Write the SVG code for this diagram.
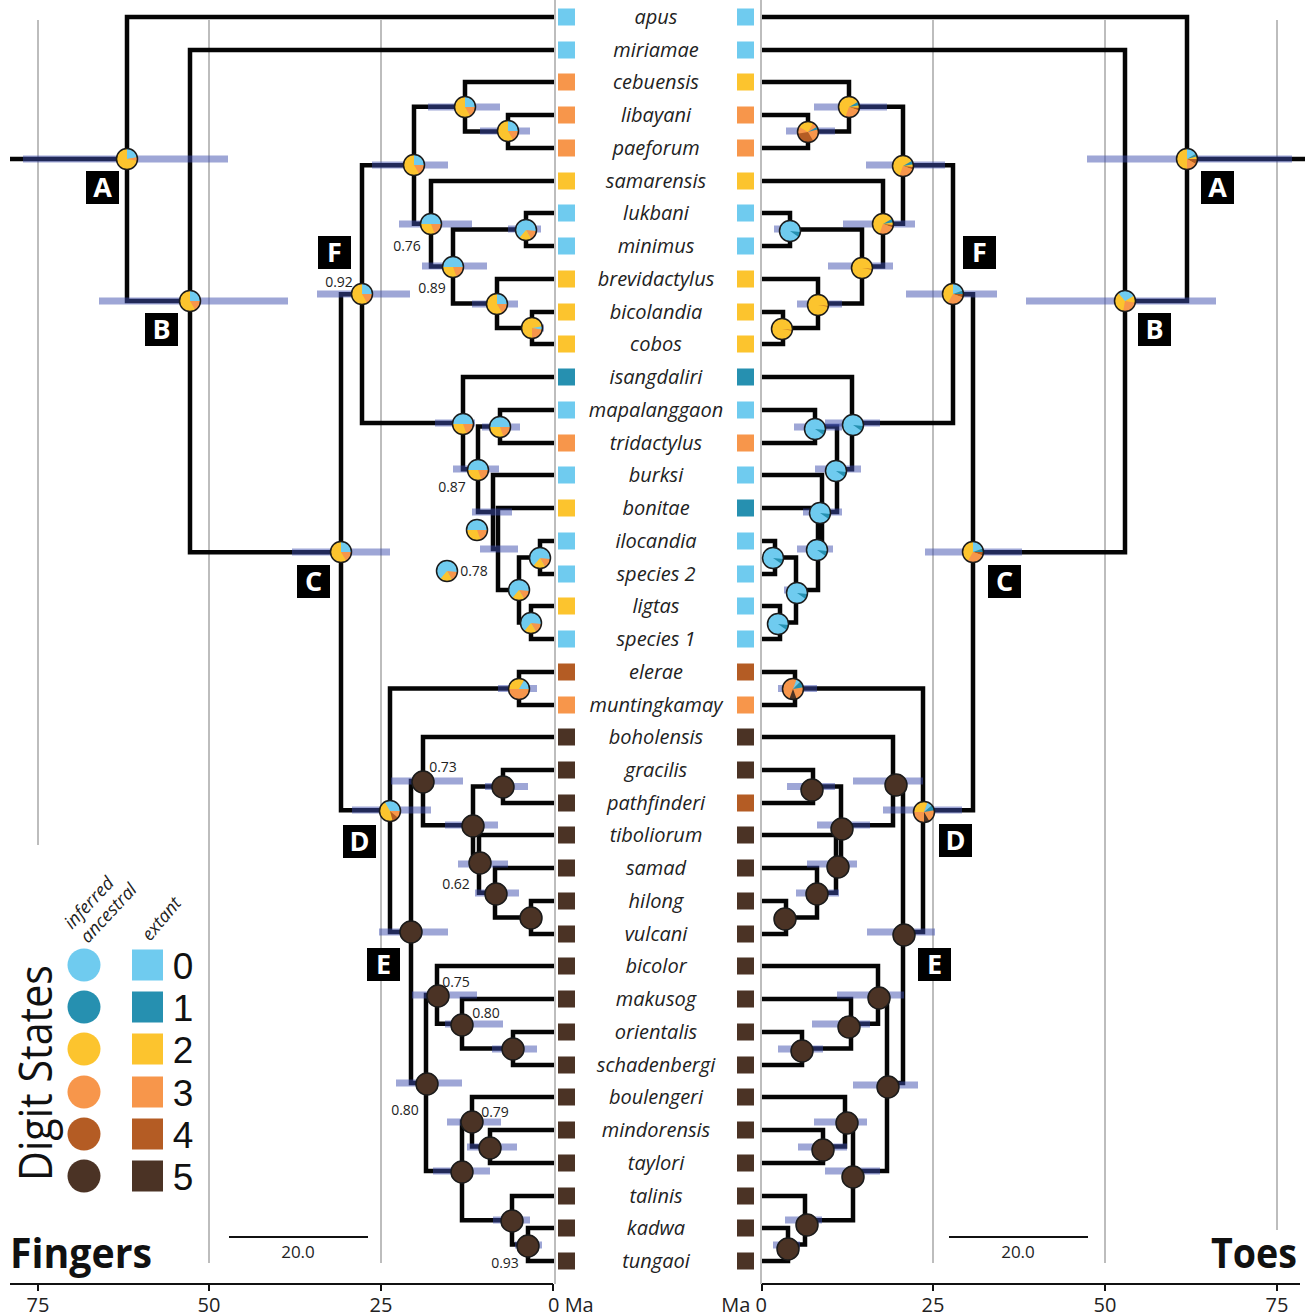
<svg xmlns="http://www.w3.org/2000/svg" width="1309" height="1316" viewBox="0 0 1309 1316">
<style>
.bg{fill:#fff}
.grid{stroke:#a8a8a8;stroke-width:1.5;fill:none}
.br{fill:none;stroke:#050505;stroke-width:4.5;stroke-linejoin:miter}
.hpd{fill:#3d4dad;opacity:.5}
.po{fill:none;stroke:#1a1a1a;stroke-width:1.5}
.c0{fill:#6fcbef}.c1{fill:#2690b0}.c2{fill:#fcc42e}.c3{fill:#f7964b}.c4{fill:#b45c24}.c5{fill:#4b3325}
.sp{font-family:"Open Sans","Noto Sans",sans-serif;font-style:italic;font-size:20px;fill:#222;text-anchor:middle}
.sup{font-family:"Open Sans","Noto Sans",sans-serif;font-size:14px;fill:#222;text-anchor:middle}
.box{fill:#000}
.bl{font-family:"Open Sans","Noto Sans",sans-serif;font-weight:bold;font-size:27px;fill:#fff;text-anchor:middle}
.ax{font-family:"Open Sans","Noto Sans",sans-serif;font-size:20px;fill:#222;text-anchor:middle}
.axs{font-family:"Open Sans","Noto Sans",sans-serif;font-size:20px;fill:#222;text-anchor:start}
.axe{font-family:"Open Sans","Noto Sans",sans-serif;font-size:20px;fill:#222;text-anchor:end}
.sc{font-family:"Open Sans","Noto Sans",sans-serif;font-size:17px;fill:#222;text-anchor:middle}
.leg{font-family:"Liberation Sans",Arial,sans-serif;font-size:37px;fill:#111;text-anchor:middle}
.legi{font-family:"Open Sans","Noto Sans",sans-serif;font-style:italic;font-size:18px;fill:#222}
.title{font-family:"Open Sans","Noto Sans",sans-serif;font-weight:bold;font-size:42px;fill:#111}
.axl{stroke:#111;stroke-width:2;fill:none}
</style>
<defs>
<g id="pLA"><circle r="10.5" class="c2"/><path class="c0" d="M0,0V-10.5A10.5,10.5 0 0 1 10.34,-1.82Z"/><path class="c3" d="M0,0L10.34,-1.82A10.5,10.5 0 0 1 10.34,1.82Z"/><circle r="10.5" class="po"/></g>
<g id="pL1"><circle r="10.5" class="c2"/><path class="c0" d="M0,0V-10.5A10.5,10.5 0 0 1 10.5,0Z"/><path class="c3" d="M0,0H10.5A10.5,10.5 0 0 1 5.25,9.09Z"/><circle r="10.5" class="po"/></g>
<g id="pL2"><circle r="10.5" class="c2"/><path class="c0" d="M0,0H-10.5A10.5,10.5 0 0 1 10.5,0Z"/><path class="c3" d="M0,0H10.5A10.5,10.5 0 0 1 3.59,9.87Z"/><circle r="10.5" class="po"/></g>
<g id="pL3"><circle r="10.5" class="c2"/><path class="c0" d="M0,0L10.34,-1.82A10.5,10.5 0 0 1 10.34,1.82Z"/><path class="c3" d="M0,0L10.34,1.82A10.5,10.5 0 0 1 0,10.5Z"/><circle r="10.5" class="po"/></g>
<g id="pLB"><circle r="10.5" class="c0"/><path class="c3" d="M0,0L10.46,0.92A10.5,10.5 0 0 1 5.25,9.09Z"/><path class="c2" d="M0,0L5.25,9.09A10.5,10.5 0 0 1 -6.75,8.04Z"/><circle r="10.5" class="po"/></g>
<g id="pLD"><circle r="10.5" class="c2"/><path class="c0" d="M0,0L-5.25,-9.09A10.5,10.5 0 0 1 10.5,0Z"/><path class="c3" d="M0,0H10.5A10.5,10.5 0 0 1 8.04,6.75Z"/><path class="c4" d="M0,0L8.04,6.75A10.5,10.5 0 0 1 2.72,10.14Z"/><circle r="10.5" class="po"/></g>
<g id="pLW"><circle r="10.5" class="c3"/><path class="c2" d="M0,0H-10.5A10.5,10.5 0 0 1 5.25,-9.09Z"/><path class="c0" d="M0,0L5.25,-9.09A10.5,10.5 0 0 1 10.5,0Z"/><circle r="10.5" class="po"/></g>
<g id="pBr"><circle r="11" class="c5"/><circle r="11" class="po"/></g>
<g id="pRA"><circle r="10.5" class="c2"/><path class="c0" d="M0,0V-10.5A10.5,10.5 0 0 1 9.09,-5.25Z"/><path class="c1" d="M0,0L9.09,-5.25A10.5,10.5 0 0 1 10.14,-2.72Z"/><path class="c4" d="M0,0H10.5A10.5,10.5 0 0 1 9.09,5.25Z"/><path class="c3" d="M0,0L9.09,5.25A10.5,10.5 0 0 1 0,10.5Z"/><circle r="10.5" class="po"/></g>
<g id="pRB"><circle r="10.5" class="c2"/><path class="c0" d="M0,0L-6.75,-8.04A10.5,10.5 0 0 1 9.09,-5.25Z"/><path class="c3" d="M0,0L10.34,1.82A10.5,10.5 0 0 1 -1.82,10.34Z"/><circle r="10.5" class="po"/></g>
<g id="pRF"><circle r="10.5" class="c2"/><path class="c0" d="M0,0V-10.5A10.5,10.5 0 0 1 9.87,-3.59Z"/><path class="c1" d="M0,0L9.87,-3.59A10.5,10.5 0 0 1 10.5,0Z"/><path class="c4" d="M0,0H10.5A10.5,10.5 0 0 1 9.87,3.59Z"/><path class="c3" d="M0,0L9.87,3.59A10.5,10.5 0 0 1 -5.25,9.09Z"/><circle r="10.5" class="po"/></g>
<g id="pRG"><circle r="10.5" class="c2"/><path class="c1" d="M0,0L9.09,-5.25A10.5,10.5 0 0 1 10.34,-1.82Z"/><path class="c4" d="M0,0L10.46,0.92A10.5,10.5 0 0 1 9.87,3.59Z"/><path class="c3" d="M0,0L9.87,3.59A10.5,10.5 0 0 1 -3.59,9.87Z"/><circle r="10.5" class="po"/></g>
<g id="pRH"><circle r="10.5" class="c3"/><path class="c4" d="M0,0L5.25,9.09A10.5,10.5 0 0 1 -10.34,1.82Z"/><path class="c2" d="M0,0L-9.09,-5.25A10.5,10.5 0 0 1 5.25,-9.09Z"/><path class="c1" d="M0,0L9.09,-5.25A10.5,10.5 0 0 1 10.14,-2.72Z"/><circle r="10.5" class="po"/></g>
<g id="pRY"><circle r="10.5" class="c2"/><path class="c4" d="M0,0L10.46,0.92A10.5,10.5 0 0 1 10.34,1.82Z"/><circle r="10.5" class="po"/></g>
<g id="pRBl"><circle r="10.5" class="c0"/><path class="c1" d="M0,0L10.46,0.92A10.5,10.5 0 0 1 8.6,6.02Z"/><circle r="10.5" class="po"/></g>
<g id="pRW"><circle r="10.5" class="c3"/><path class="c0" d="M0,0L3.59,-9.87A10.5,10.5 0 0 1 7.42,-7.42Z"/><path class="c1" d="M0,0L7.42,-7.42A10.5,10.5 0 0 1 10.34,-1.82Z"/><path class="c5" d="M0,0L3.59,9.87A10.5,10.5 0 0 1 -3.59,9.87Z"/><circle r="10.5" class="po"/></g>
<g id="pRD"><circle r="10.5" class="c3"/><path class="c2" d="M0,0H-10.5A10.5,10.5 0 0 1 3.59,-9.87Z"/><path class="c0" d="M0,0L3.59,-9.87A10.5,10.5 0 0 1 8.04,-6.75Z"/><path class="c1" d="M0,0L8.04,-6.75A10.5,10.5 0 0 1 10.34,-1.82Z"/><path class="c5" d="M0,0L5.25,9.09A10.5,10.5 0 0 1 0,10.5Z"/><circle r="10.5" class="po"/></g>
</defs>
<rect class="bg" x="0" y="0" width="1309" height="1316"/>
<g id="grid">
<path class="grid" d="M38,20V845M209,20V1263M381,20V1263M555,0V1284M761,0V1284M933,20V1263M1105,20V1263M1277,20V1230"/>
</g>
<g id="connectors">
<g id="left-tree">
<path class="br" d="M127,159H10"/>
<path class="br" d="M554,17H127V301.1H190"/>
<path class="br" d="M554,50H190V552.2H341"/>
<path class="br" d="M362,294.2H341V810.25H390"/>
<path class="br" d="M414,165.25H362V423.1H463"/>
<path class="br" d="M465,106.75H414V223.75H431"/>
<path class="br" d="M554,82H465V131.5H508"/>
<path class="br" d="M554,115H508V148H554"/>
<path class="br" d="M554,181H431V266.5H453"/>
<path class="br" d="M526,229.5H453V303.5H497"/>
<path class="br" d="M554,213H526V246H554"/>
<path class="br" d="M554,279H497V328H532"/>
<path class="br" d="M554,312H532V344H554"/>
<path class="br" d="M554,377H463V469.25H478"/>
<path class="br" d="M500,426.5H478V512H493"/>
<path class="br" d="M554,410H500V443H554"/>
<path class="br" d="M554,475H493V549H498"/>
<path class="br" d="M554,508H498V590H519"/>
<path class="br" d="M540,557.5H519V622.5H531"/>
<path class="br" d="M554,541H540V574H554"/>
<path class="br" d="M554,606H531V639H554"/>
<path class="br" d="M519,688.5H390V932H411"/>
<path class="br" d="M554,672H519V705H554"/>
<path class="br" d="M423,781.1H411V1083H426"/>
<path class="br" d="M554,737H423V825.2H473"/>
<path class="br" d="M503,786.5H473V863.9H479"/>
<path class="br" d="M554,770H503V803H554"/>
<path class="br" d="M554,835H479V892.75H495"/>
<path class="br" d="M554,868H495V917.5H531"/>
<path class="br" d="M554,901H531V934H554"/>
<path class="br" d="M437,994.9H426V1171H462"/>
<path class="br" d="M554,966H437V1023.75H462"/>
<path class="br" d="M554,999H462V1048.5H513"/>
<path class="br" d="M554,1032H513V1065H554"/>
<path class="br" d="M472,1121.75H462V1220.25H512"/>
<path class="br" d="M554,1097H472V1146.5H490"/>
<path class="br" d="M554,1130H490V1163H554"/>
<path class="br" d="M554,1196H512V1244.5H528"/>
<path class="br" d="M554,1228H528V1261H554"/>
</g>
<g id="right-tree">
<path class="br" d="M1187,159H1305"/>
<path class="br" d="M762,17H1187V301.1H1125"/>
<path class="br" d="M762,50H1125V552.2H973"/>
<path class="br" d="M953,294.2H973V810.25H923"/>
<path class="br" d="M903,165.25H953V423.1H852"/>
<path class="br" d="M849,106.75H903V223.75H883"/>
<path class="br" d="M762,82H849V131.5H808"/>
<path class="br" d="M762,115H808V148H762"/>
<path class="br" d="M762,181H883V266.5H862"/>
<path class="br" d="M790,229.5H862V303.5H818"/>
<path class="br" d="M762,213H790V246H762"/>
<path class="br" d="M762,279H818V328H783"/>
<path class="br" d="M762,312H783V344H762"/>
<path class="br" d="M762,377H852V469.25H837"/>
<path class="br" d="M815,426.5H837V512H822"/>
<path class="br" d="M762,410H815V443H762"/>
<path class="br" d="M762,475H822V549H818"/>
<path class="br" d="M762,508H818V590H796"/>
<path class="br" d="M775,557.5H796V622.5H780"/>
<path class="br" d="M762,541H775V574H762"/>
<path class="br" d="M762,606H780V639H762"/>
<path class="br" d="M795,688.5H923V932H903"/>
<path class="br" d="M762,672H795V705H762"/>
<path class="br" d="M893,781.1H903V1083H887"/>
<path class="br" d="M762,737H893V825.2H841"/>
<path class="br" d="M813,786.5H841V863.9H836"/>
<path class="br" d="M762,770H813V803H762"/>
<path class="br" d="M762,835H836V892.75H817"/>
<path class="br" d="M762,868H817V917.5H786"/>
<path class="br" d="M762,901H786V934H762"/>
<path class="br" d="M878,994.9H887V1171H853"/>
<path class="br" d="M762,966H878V1023.75H851"/>
<path class="br" d="M762,999H851V1048.5H802"/>
<path class="br" d="M762,1032H802V1065H762"/>
<path class="br" d="M845,1121.75H853V1220.25H805"/>
<path class="br" d="M762,1097H845V1146.5H823"/>
<path class="br" d="M762,1130H823V1163H762"/>
<path class="br" d="M762,1196H805V1244.5H788"/>
<path class="br" d="M762,1228H788V1261H762"/>
</g>
</g>
<g id="hpd-bars">
<rect class="hpd" x="23" y="155.5" width="205" height="7"/>
<rect class="hpd" x="99" y="297.5" width="189" height="7"/>
<rect class="hpd" x="292" y="548.5" width="98" height="7"/>
<rect class="hpd" x="317" y="290.5" width="93" height="7"/>
<rect class="hpd" x="372" y="161.5" width="76" height="7"/>
<rect class="hpd" x="428" y="103.5" width="72" height="7"/>
<rect class="hpd" x="480" y="127.5" width="50" height="7"/>
<rect class="hpd" x="399" y="220.5" width="73" height="7"/>
<rect class="hpd" x="422" y="262.5" width="65" height="7"/>
<rect class="hpd" x="508" y="225.5" width="33" height="7"/>
<rect class="hpd" x="472" y="300.5" width="46" height="7"/>
<rect class="hpd" x="522" y="324.5" width="22" height="7"/>
<rect class="hpd" x="435" y="419.5" width="40" height="7"/>
<rect class="hpd" x="482" y="423.5" width="38" height="7"/>
<rect class="hpd" x="453" y="465.5" width="46" height="7"/>
<rect class="hpd" x="472" y="508.5" width="40" height="7"/>
<rect class="hpd" x="480" y="545.5" width="38" height="7"/>
<rect class="hpd" x="498" y="685" width="39" height="7"/>
<rect class="hpd" x="352" y="806.5" width="79" height="7"/>
<rect class="hpd" x="391" y="777.5" width="72" height="7"/>
<rect class="hpd" x="485" y="783" width="43" height="7"/>
<rect class="hpd" x="445" y="821.5" width="53" height="7"/>
<rect class="hpd" x="458" y="860.5" width="50" height="7"/>
<rect class="hpd" x="475" y="889.5" width="44" height="7"/>
<rect class="hpd" x="379" y="928.5" width="69" height="7"/>
<rect class="hpd" x="412" y="991.5" width="65" height="7"/>
<rect class="hpd" x="445" y="1020.5" width="58" height="7"/>
<rect class="hpd" x="492" y="1045.5" width="45" height="7"/>
<rect class="hpd" x="396" y="1079.5" width="66" height="7"/>
<rect class="hpd" x="447" y="1118.5" width="54" height="7"/>
<rect class="hpd" x="467" y="1143.5" width="50" height="7"/>
<rect class="hpd" x="433" y="1167.5" width="57" height="7"/>
<rect class="hpd" x="493" y="1216.5" width="37" height="7"/>
<rect class="hpd" x="515" y="1241.5" width="27" height="7"/>
<rect class="hpd" x="1087" y="155.5" width="205" height="7"/>
<rect class="hpd" x="1026" y="297.5" width="190" height="7"/>
<rect class="hpd" x="925" y="548.5" width="97" height="7"/>
<rect class="hpd" x="906" y="290.5" width="91" height="7"/>
<rect class="hpd" x="866" y="161.5" width="79" height="7"/>
<rect class="hpd" x="814" y="103.5" width="73" height="7"/>
<rect class="hpd" x="786" y="127.5" width="49" height="7"/>
<rect class="hpd" x="843" y="220.5" width="72" height="7"/>
<rect class="hpd" x="828" y="262.5" width="65" height="7"/>
<rect class="hpd" x="774" y="225.5" width="26" height="7"/>
<rect class="hpd" x="797" y="300.5" width="45" height="7"/>
<rect class="hpd" x="825" y="419.5" width="55" height="7"/>
<rect class="hpd" x="794" y="423.5" width="48" height="7"/>
<rect class="hpd" x="815" y="465.5" width="46" height="7"/>
<rect class="hpd" x="803" y="508.5" width="39" height="7"/>
<rect class="hpd" x="797" y="545.5" width="36" height="7"/>
<rect class="hpd" x="784" y="586.5" width="21" height="7"/>
<rect class="hpd" x="778" y="685" width="39" height="7"/>
<rect class="hpd" x="883" y="806.5" width="79" height="7"/>
<rect class="hpd" x="853" y="777.5" width="70" height="7"/>
<rect class="hpd" x="787" y="783" width="48" height="7"/>
<rect class="hpd" x="817" y="821.5" width="53" height="7"/>
<rect class="hpd" x="807" y="860.5" width="50" height="7"/>
<rect class="hpd" x="796" y="889.5" width="43" height="7"/>
<rect class="hpd" x="867" y="928.5" width="68" height="7"/>
<rect class="hpd" x="837" y="991.5" width="67" height="7"/>
<rect class="hpd" x="812" y="1020.5" width="58" height="7"/>
<rect class="hpd" x="778" y="1045.5" width="45" height="7"/>
<rect class="hpd" x="853" y="1081.5" width="65" height="7"/>
<rect class="hpd" x="814" y="1118.5" width="53" height="7"/>
<rect class="hpd" x="798" y="1143.5" width="49" height="7"/>
<rect class="hpd" x="825" y="1167.5" width="55" height="7"/>
<rect class="hpd" x="785" y="1216.5" width="37" height="7"/>
<rect class="hpd" x="773" y="1241.5" width="27" height="7"/>
</g>
<g id="left-nodes">
<g id="nL-A"><use href="#pLA" x="127" y="159"/><rect class="box" x="86" y="171" width="33" height="33"/><text class="bl" x="102.5" y="197">A</text></g>
<g id="nL-B"><use href="#pL1" x="190" y="301"/><rect class="box" x="145" y="313" width="33" height="33"/><text class="bl" x="161.5" y="339">B</text></g>
<g id="nL-C"><use href="#pL1" x="341" y="552"/><rect class="box" x="297" y="565" width="33" height="33"/><text class="bl" x="313.5" y="591">C</text></g>
<g id="nL-F"><use href="#pL1" x="362" y="294"/><rect class="box" x="318" y="236" width="33" height="33"/><text class="bl" x="334.5" y="262">F</text><text class="sup" x="339" y="287">0.92</text></g>
<g id="nL-G"><use href="#pL1" x="414" y="165"/></g>
<g id="nL-H"><use href="#pL1" x="465" y="107"/></g>
<g id="nL-H2"><use href="#pL1" x="508" y="131"/></g>
<g id="nL-I"><use href="#pL2" x="431" y="224"/><text class="sup" x="407" y="251">0.76</text></g>
<g id="nL-J"><use href="#pL2" x="453" y="267"/><text class="sup" x="432" y="293">0.89</text></g>
<g id="nL-K"><use href="#pLB" x="526" y="230"/></g>
<g id="nL-L"><use href="#pL1" x="497" y="304"/></g>
<g id="nL-M"><use href="#pL3" x="532" y="328"/></g>
<g id="nL-N"><use href="#pL2" x="463" y="424"/></g>
<g id="nL-O"><use href="#pL2" x="500" y="427"/></g>
<g id="nL-P"><use href="#pL2" x="478" y="470"/><text class="sup" x="452" y="492">0.87</text></g>
<g id="nL-Q"><use href="#pL2" x="477" y="530"/></g>
<g id="nL-R"><use href="#pLB" x="447" y="571"/><text class="sup" x="474" y="576">0.78</text></g>
<g id="nL-T"><use href="#pLB" x="519" y="590"/></g>
<g id="nL-U"><use href="#pLB" x="540" y="558"/></g>
<g id="nL-V"><use href="#pLB" x="531" y="623"/></g>
<g id="nL-W"><use href="#pLW" x="519" y="689"/></g>
<g id="nL-D"><use href="#pLD" x="390" y="811"/><rect class="box" x="343" y="825" width="33" height="33"/><text class="bl" x="359.5" y="851">D</text></g>
<g id="nL-E"><use href="#pBr" x="411" y="932"/><rect class="box" x="367" y="948" width="33" height="33"/><text class="bl" x="383.5" y="974">E</text></g>
<g id="nL-X"><use href="#pBr" x="423" y="782"/><text class="sup" x="443" y="772">0.73</text></g>
<g id="nL-Z"><use href="#pBr" x="473" y="826"/></g>
<g id="nL-AA"><use href="#pBr" x="503" y="787"/></g>
<g id="nL-AB"><use href="#pBr" x="480" y="863"/><text class="sup" x="456" y="889">0.62</text></g>
<g id="nL-AC"><use href="#pBr" x="496" y="894"/></g>
<g id="nL-AD"><use href="#pBr" x="531" y="918"/></g>
<g id="nL-Y"><use href="#pBr" x="427" y="1084"/><text class="sup" x="405" y="1115">0.80</text></g>
<g id="nL-AE"><use href="#pBr" x="438" y="996"/><text class="sup" x="456" y="987">0.75</text></g>
<g id="nL-AG"><use href="#pBr" x="462" y="1025"/><text class="sup" x="486" y="1018">0.80</text></g>
<g id="nL-AH"><use href="#pBr" x="513" y="1049"/></g>
<g id="nL-AF"><use href="#pBr" x="462" y="1172"/></g>
<g id="nL-AI"><use href="#pBr" x="472" y="1122"/><text class="sup" x="495" y="1117">0.79</text></g>
<g id="nL-AK"><use href="#pBr" x="490" y="1148"/></g>
<g id="nL-AJ"><use href="#pBr" x="512" y="1221"/></g>
<g id="nL-AL"><use href="#pBr" x="528" y="1246"/><text class="sup" x="505" y="1268">0.93</text></g>
</g>
<g id="right-nodes">
<g id="nR-A"><use href="#pRA" x="1187" y="159"/><rect class="box" x="1201" y="171" width="33" height="33"/><text class="bl" x="1217.5" y="197">A</text></g>
<g id="nR-B"><use href="#pRB" x="1125" y="301"/><rect class="box" x="1138" y="313" width="33" height="33"/><text class="bl" x="1154.5" y="339">B</text></g>
<g id="nR-C"><use href="#pRF" x="973" y="552"/><rect class="box" x="988" y="565" width="33" height="33"/><text class="bl" x="1004.5" y="591">C</text></g>
<g id="nR-F"><use href="#pRF" x="953" y="294"/><rect class="box" x="963" y="236" width="33" height="33"/><text class="bl" x="979.5" y="262">F</text></g>
<g id="nR-G"><use href="#pRG" x="903" y="166"/></g>
<g id="nR-H"><use href="#pRG" x="849" y="107"/></g>
<g id="nR-H2"><use href="#pRH" x="808" y="132"/></g>
<g id="nR-I"><use href="#pRG" x="883" y="224"/></g>
<g id="nR-J"><use href="#pRY" x="862" y="268"/></g>
<g id="nR-K"><use href="#pRBl" x="790" y="231"/></g>
<g id="nR-L"><use href="#pRY" x="818" y="305"/></g>
<g id="nR-M"><use href="#pRY" x="782" y="329"/></g>
<g id="nR-N"><use href="#pRBl" x="853" y="425"/></g>
<g id="nR-O"><use href="#pRBl" x="815" y="429"/></g>
<g id="nR-P"><use href="#pRBl" x="836" y="471"/></g>
<g id="nR-Q"><use href="#pRBl" x="820" y="513"/></g>
<g id="nR-R"><use href="#pRBl" x="817" y="550"/></g>
<g id="nR-T"><use href="#pRBl" x="797" y="593"/></g>
<g id="nR-U"><use href="#pRBl" x="773" y="558"/></g>
<g id="nR-V"><use href="#pRBl" x="778" y="624"/></g>
<g id="nR-W"><use href="#pRW" x="793" y="689"/></g>
<g id="nR-D"><use href="#pRD" x="924" y="812"/><rect class="box" x="939" y="824" width="33" height="33"/><text class="bl" x="955.5" y="850">D</text></g>
<g id="nR-E"><use href="#pBr" x="904" y="935"/><rect class="box" x="918" y="948" width="33" height="33"/><text class="bl" x="934.5" y="974">E</text></g>
<g id="nR-X"><use href="#pBr" x="896" y="785"/></g>
<g id="nR-Z"><use href="#pBr" x="842" y="829"/></g>
<g id="nR-AA"><use href="#pBr" x="812" y="790"/></g>
<g id="nR-AB"><use href="#pBr" x="838" y="867"/></g>
<g id="nR-AC"><use href="#pBr" x="817" y="894"/></g>
<g id="nR-AD"><use href="#pBr" x="785" y="919"/></g>
<g id="nR-Y"><use href="#pBr" x="888" y="1087"/></g>
<g id="nR-AE"><use href="#pBr" x="879" y="998"/></g>
<g id="nR-AG"><use href="#pBr" x="849" y="1027"/></g>
<g id="nR-AH"><use href="#pBr" x="802" y="1051"/></g>
<g id="nR-AF"><use href="#pBr" x="853" y="1177"/></g>
<g id="nR-AI"><use href="#pBr" x="847" y="1123"/></g>
<g id="nR-AK"><use href="#pBr" x="823" y="1150"/></g>
<g id="nR-AJ"><use href="#pBr" x="807" y="1225"/></g>
<g id="nR-AL"><use href="#pBr" x="788" y="1249"/></g>
</g>
<g id="species">
<g id="sp-apus"><rect class="c0" x="558" y="8.5" width="17" height="17"/><text class="sp" x="656" y="24">apus</text><rect class="c0" x="737" y="8.5" width="17" height="17"/></g>
<g id="sp-miriamae"><rect class="c0" x="558" y="41.5" width="17" height="17"/><text class="sp" x="656" y="57">miriamae</text><rect class="c0" x="737" y="41.5" width="17" height="17"/></g>
<g id="sp-cebuensis"><rect class="c3" x="558" y="73.5" width="17" height="17"/><text class="sp" x="656" y="89">cebuensis</text><rect class="c2" x="737" y="73.5" width="17" height="17"/></g>
<g id="sp-libayani"><rect class="c3" x="558" y="106.5" width="17" height="17"/><text class="sp" x="656" y="122">libayani</text><rect class="c3" x="737" y="106.5" width="17" height="17"/></g>
<g id="sp-paeforum"><rect class="c3" x="558" y="139.5" width="17" height="17"/><text class="sp" x="656" y="155">paeforum</text><rect class="c3" x="737" y="139.5" width="17" height="17"/></g>
<g id="sp-samarensis"><rect class="c2" x="558" y="172.5" width="17" height="17"/><text class="sp" x="656" y="188">samarensis</text><rect class="c2" x="737" y="172.5" width="17" height="17"/></g>
<g id="sp-lukbani"><rect class="c0" x="558" y="204.5" width="17" height="17"/><text class="sp" x="656" y="220">lukbani</text><rect class="c0" x="737" y="204.5" width="17" height="17"/></g>
<g id="sp-minimus"><rect class="c0" x="558" y="237.5" width="17" height="17"/><text class="sp" x="656" y="253">minimus</text><rect class="c0" x="737" y="237.5" width="17" height="17"/></g>
<g id="sp-brevidactylus"><rect class="c2" x="558" y="270.5" width="17" height="17"/><text class="sp" x="656" y="286">brevidactylus</text><rect class="c2" x="737" y="270.5" width="17" height="17"/></g>
<g id="sp-bicolandia"><rect class="c2" x="558" y="303.5" width="17" height="17"/><text class="sp" x="656" y="319">bicolandia</text><rect class="c2" x="737" y="303.5" width="17" height="17"/></g>
<g id="sp-cobos"><rect class="c2" x="558" y="335.5" width="17" height="17"/><text class="sp" x="656" y="351">cobos</text><rect class="c2" x="737" y="335.5" width="17" height="17"/></g>
<g id="sp-isangdaliri"><rect class="c1" x="558" y="368.5" width="17" height="17"/><text class="sp" x="656" y="384">isangdaliri</text><rect class="c1" x="737" y="368.5" width="17" height="17"/></g>
<g id="sp-mapalanggaon"><rect class="c0" x="558" y="401.5" width="17" height="17"/><text class="sp" x="656" y="417">mapalanggaon</text><rect class="c0" x="737" y="401.5" width="17" height="17"/></g>
<g id="sp-tridactylus"><rect class="c3" x="558" y="434.5" width="17" height="17"/><text class="sp" x="656" y="450">tridactylus</text><rect class="c3" x="737" y="434.5" width="17" height="17"/></g>
<g id="sp-burksi"><rect class="c0" x="558" y="466.5" width="17" height="17"/><text class="sp" x="656" y="482">burksi</text><rect class="c0" x="737" y="466.5" width="17" height="17"/></g>
<g id="sp-bonitae"><rect class="c2" x="558" y="499.5" width="17" height="17"/><text class="sp" x="656" y="515">bonitae</text><rect class="c1" x="737" y="499.5" width="17" height="17"/></g>
<g id="sp-ilocandia"><rect class="c0" x="558" y="532.5" width="17" height="17"/><text class="sp" x="656" y="548">ilocandia</text><rect class="c0" x="737" y="532.5" width="17" height="17"/></g>
<g id="sp-species2"><rect class="c0" x="558" y="565.5" width="17" height="17"/><text class="sp" x="656" y="581">species 2</text><rect class="c0" x="737" y="565.5" width="17" height="17"/></g>
<g id="sp-ligtas"><rect class="c2" x="558" y="597.5" width="17" height="17"/><text class="sp" x="656" y="613">ligtas</text><rect class="c0" x="737" y="597.5" width="17" height="17"/></g>
<g id="sp-species1"><rect class="c0" x="558" y="630.5" width="17" height="17"/><text class="sp" x="656" y="646">species 1</text><rect class="c0" x="737" y="630.5" width="17" height="17"/></g>
<g id="sp-elerae"><rect class="c4" x="558" y="663.5" width="17" height="17"/><text class="sp" x="656" y="679">elerae</text><rect class="c4" x="737" y="663.5" width="17" height="17"/></g>
<g id="sp-muntingkamay"><rect class="c3" x="558" y="696.5" width="17" height="17"/><text class="sp" x="656" y="712">muntingkamay</text><rect class="c3" x="737" y="696.5" width="17" height="17"/></g>
<g id="sp-boholensis"><rect class="c5" x="558" y="728.5" width="17" height="17"/><text class="sp" x="656" y="744">boholensis</text><rect class="c5" x="737" y="728.5" width="17" height="17"/></g>
<g id="sp-gracilis"><rect class="c5" x="558" y="761.5" width="17" height="17"/><text class="sp" x="656" y="777">gracilis</text><rect class="c5" x="737" y="761.5" width="17" height="17"/></g>
<g id="sp-pathfinderi"><rect class="c5" x="558" y="794.5" width="17" height="17"/><text class="sp" x="656" y="810">pathfinderi</text><rect class="c4" x="737" y="794.5" width="17" height="17"/></g>
<g id="sp-tiboliorum"><rect class="c5" x="558" y="826.5" width="17" height="17"/><text class="sp" x="656" y="842">tiboliorum</text><rect class="c5" x="737" y="826.5" width="17" height="17"/></g>
<g id="sp-samad"><rect class="c5" x="558" y="859.5" width="17" height="17"/><text class="sp" x="656" y="875">samad</text><rect class="c5" x="737" y="859.5" width="17" height="17"/></g>
<g id="sp-hilong"><rect class="c5" x="558" y="892.5" width="17" height="17"/><text class="sp" x="656" y="908">hilong</text><rect class="c5" x="737" y="892.5" width="17" height="17"/></g>
<g id="sp-vulcani"><rect class="c5" x="558" y="925.5" width="17" height="17"/><text class="sp" x="656" y="941">vulcani</text><rect class="c5" x="737" y="925.5" width="17" height="17"/></g>
<g id="sp-bicolor"><rect class="c5" x="558" y="957.5" width="17" height="17"/><text class="sp" x="656" y="973">bicolor</text><rect class="c5" x="737" y="957.5" width="17" height="17"/></g>
<g id="sp-makusog"><rect class="c5" x="558" y="990.5" width="17" height="17"/><text class="sp" x="656" y="1006">makusog</text><rect class="c5" x="737" y="990.5" width="17" height="17"/></g>
<g id="sp-orientalis"><rect class="c5" x="558" y="1023.5" width="17" height="17"/><text class="sp" x="656" y="1039">orientalis</text><rect class="c5" x="737" y="1023.5" width="17" height="17"/></g>
<g id="sp-schadenbergi"><rect class="c5" x="558" y="1056.5" width="17" height="17"/><text class="sp" x="656" y="1072">schadenbergi</text><rect class="c5" x="737" y="1056.5" width="17" height="17"/></g>
<g id="sp-boulengeri"><rect class="c5" x="558" y="1088.5" width="17" height="17"/><text class="sp" x="656" y="1104">boulengeri</text><rect class="c5" x="737" y="1088.5" width="17" height="17"/></g>
<g id="sp-mindorensis"><rect class="c5" x="558" y="1121.5" width="17" height="17"/><text class="sp" x="656" y="1137">mindorensis</text><rect class="c5" x="737" y="1121.5" width="17" height="17"/></g>
<g id="sp-taylori"><rect class="c5" x="558" y="1154.5" width="17" height="17"/><text class="sp" x="656" y="1170">taylori</text><rect class="c5" x="737" y="1154.5" width="17" height="17"/></g>
<g id="sp-talinis"><rect class="c5" x="558" y="1187.5" width="17" height="17"/><text class="sp" x="656" y="1203">talinis</text><rect class="c5" x="737" y="1187.5" width="17" height="17"/></g>
<g id="sp-kadwa"><rect class="c5" x="558" y="1219.5" width="17" height="17"/><text class="sp" x="656" y="1235">kadwa</text><rect class="c5" x="737" y="1219.5" width="17" height="17"/></g>
<g id="sp-tungaoi"><rect class="c5" x="558" y="1252.5" width="17" height="17"/><text class="sp" x="656" y="1268">tungaoi</text><rect class="c5" x="737" y="1252.5" width="17" height="17"/></g>
</g>
<g id="legend">
<text class="legi" transform="translate(72,930) rotate(-47)">inferred</text>
<text class="legi" transform="translate(88,944) rotate(-47)">ancestral</text>
<text class="legi" transform="translate(150,942) rotate(-50)">extant</text>
<text transform="translate(52,1181) rotate(-90)" font-family="Open Sans, Noto Sans, sans-serif" font-size="45" fill="#111" textLength="216" lengthAdjust="spacingAndGlyphs">Digit States</text>
<circle cx="84" cy="965" r="16.5" class="c0"/><rect x="132" y="949.5" width="31" height="31" class="c0"/><text class="leg" x="183" y="979">0</text>
<circle cx="84" cy="1007" r="16.5" class="c1"/><rect x="132" y="991.5" width="31" height="31" class="c1"/><text class="leg" x="183" y="1021">1</text>
<circle cx="84" cy="1049" r="16.5" class="c2"/><rect x="132" y="1033.5" width="31" height="31" class="c2"/><text class="leg" x="183" y="1063">2</text>
<circle cx="84" cy="1092" r="16.5" class="c3"/><rect x="132" y="1076.5" width="31" height="31" class="c3"/><text class="leg" x="183" y="1106">3</text>
<circle cx="84" cy="1134" r="16.5" class="c4"/><rect x="132" y="1118.5" width="31" height="31" class="c4"/><text class="leg" x="183" y="1148">4</text>
<circle cx="84" cy="1176" r="16.5" class="c5"/><rect x="132" y="1160.5" width="31" height="31" class="c5"/><text class="leg" x="183" y="1190">5</text>
</g>
<g id="axes">
<text class="title" x="10" y="1268" textLength="142" lengthAdjust="spacingAndGlyphs">Fingers</text>
<text class="title" x="1297" y="1268" text-anchor="end" textLength="86" lengthAdjust="spacingAndGlyphs">Toes</text>
<path class="axl" d="M229,1237H368M949,1237H1088"/>
<text class="sc" x="298" y="1258">20.0</text>
<text class="sc" x="1018" y="1258">20.0</text>
<path class="axl" d="M10,1284H553M762,1284H1300M38,1284V1291M209,1284V1291M381,1284V1291M553,1284V1291M762,1284V1291M933,1284V1291M1105,1284V1291M1277,1284V1291"/>
<text class="ax" x="38" y="1312">75</text>
<text class="ax" x="209" y="1312">50</text>
<text class="ax" x="381" y="1312">25</text>
<text class="axs" x="548" y="1312">0 Ma</text>
<text class="axe" x="767" y="1312">Ma 0</text>
<text class="ax" x="933" y="1312">25</text>
<text class="ax" x="1105" y="1312">50</text>
<text class="ax" x="1277" y="1312">75</text>
</g>
</svg>
